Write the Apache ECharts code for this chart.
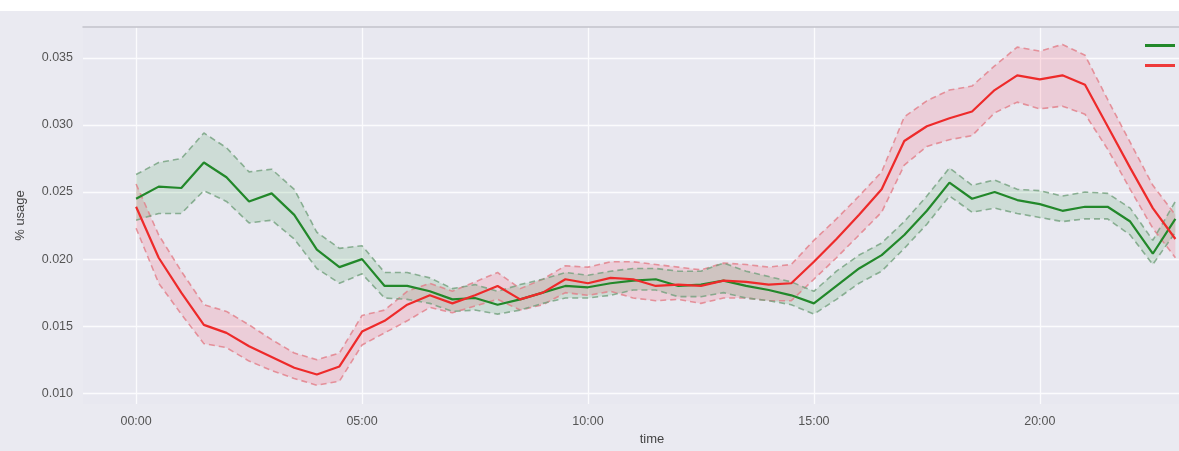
<!DOCTYPE html>
<html>
<head>
<meta charset="utf-8">
<script src="https://cdn.jsdelivr.net/npm/echarts@6/dist/echarts.min.js"></script>
<style>
  html, body { margin: 0; padding: 0; background: #eaeaf1; }
  #chart { width: 1179px; height: 451px; }
</style>
</head>
<body>
<div id="chart"></div>
<script>
// hours of the day, half-hour steps
const hours = [0, 0.5, 1, 1.5, 2, 2.5, 3, 3.5, 4, 4.5, 5, 5.5, 6, 6.5, 7, 7.5, 8, 8.5, 9, 9.5,
  10, 10.5, 11, 11.5, 12, 12.5, 13, 13.5, 14, 14.5, 15, 15.5, 16, 16.5, 17, 17.5, 18, 18.5, 19, 19.5,
  20, 20.5, 21, 21.5, 22, 22.5, 23]

// green series: mean and confidence band
const greenMean = [0.0245, 0.0254, 0.0253, 0.0272, 0.0261, 0.0243, 0.0249, 0.0233, 0.0207, 0.0194,
  0.0200, 0.0180, 0.0180, 0.0176, 0.0170, 0.0171, 0.0166, 0.0170, 0.0175, 0.0180,
  0.0179, 0.0182, 0.0184, 0.0185, 0.0180, 0.0181, 0.0184, 0.0180, 0.0177, 0.0173,
  0.0167, 0.0180, 0.0193, 0.0203, 0.0218, 0.0236, 0.0257, 0.0245, 0.0250, 0.0244,
  0.0241, 0.0236, 0.0239, 0.0239, 0.0228, 0.0204, 0.0230]
const greenHigh = [0.0263, 0.0272, 0.0275, 0.0294, 0.0283, 0.0265, 0.0267, 0.0252, 0.0220, 0.0208,
  0.0210, 0.0190, 0.0190, 0.0186, 0.0178, 0.0181, 0.0176, 0.0181, 0.0185, 0.0190,
  0.0188, 0.0191, 0.0193, 0.0193, 0.0191, 0.0191, 0.0197, 0.0191, 0.0187, 0.0183,
  0.0176, 0.0191, 0.0203, 0.0212, 0.0228, 0.0247, 0.0268, 0.0255, 0.0259, 0.0252,
  0.0251, 0.0247, 0.0250, 0.0249, 0.0238, 0.0214, 0.0243]
const greenLow = [0.0229, 0.0234, 0.0234, 0.0251, 0.0243, 0.0227, 0.0229, 0.0215, 0.0193, 0.0182,
  0.0189, 0.0171, 0.0170, 0.0167, 0.0161, 0.0162, 0.0159, 0.0162, 0.0167, 0.0171,
  0.0171, 0.0173, 0.0177, 0.0177, 0.0172, 0.0172, 0.0175, 0.0171, 0.0169, 0.0166,
  0.0159, 0.0170, 0.0182, 0.0191, 0.0208, 0.0226, 0.0247, 0.0235, 0.0238, 0.0234,
  0.0231, 0.0228, 0.0230, 0.0230, 0.0218, 0.0196, 0.0220]

// red series: mean and confidence band
const redMean = [0.0239, 0.0201, 0.0175, 0.0151, 0.0145, 0.0135, 0.0127, 0.0119, 0.0114, 0.0120,
  0.0146, 0.0154, 0.0166, 0.0173, 0.0167, 0.0173, 0.0180, 0.0170, 0.0175, 0.0185,
  0.0182, 0.0186, 0.0185, 0.0180, 0.0181, 0.0180, 0.0184, 0.0183, 0.0181, 0.0182,
  0.0198, 0.0215, 0.0233, 0.0252, 0.0288, 0.0299, 0.0305, 0.0310, 0.0326, 0.0337,
  0.0334, 0.0337, 0.0330, 0.0299, 0.0268, 0.0238, 0.0215]
const redHigh = [0.0256, 0.0218, 0.0191, 0.0166, 0.0161, 0.0151, 0.0140, 0.0130, 0.0125, 0.0130,
  0.0158, 0.0162, 0.0176, 0.0182, 0.0176, 0.0183, 0.0190, 0.0178, 0.0185, 0.0195,
  0.0194, 0.0198, 0.0198, 0.0196, 0.0194, 0.0192, 0.0197, 0.0196, 0.0194, 0.0196,
  0.0214, 0.0230, 0.0247, 0.0265, 0.0306, 0.0318, 0.0326, 0.0329, 0.0344, 0.0358,
  0.0355, 0.0360, 0.0352, 0.0319, 0.0287, 0.0255, 0.0233]
const redLow = [0.0223, 0.0182, 0.0159, 0.0137, 0.0134, 0.0124, 0.0117, 0.0111, 0.0106, 0.0109,
  0.0136, 0.0145, 0.0154, 0.0164, 0.0160, 0.0165, 0.0170, 0.0162, 0.0166, 0.0175,
  0.0173, 0.0176, 0.0171, 0.0169, 0.0170, 0.0167, 0.0171, 0.0171, 0.0169, 0.0169,
  0.0185, 0.0201, 0.0218, 0.0235, 0.0270, 0.0284, 0.0289, 0.0292, 0.0309, 0.0317,
  0.0312, 0.0314, 0.0308, 0.0282, 0.0252, 0.0223, 0.0201]

// tick labels
const xTicks = [0, 5, 10, 15, 20]
const yTicks = [0.010, 0.015, 0.020, 0.025, 0.030, 0.035]

const pairs = (ys) => hours.map((h, i) => [h, ys[i]])

const font = 'Liberation Sans, Arial, sans-serif'

// filled band between lo and hi, drawn as one polygon through the axes
function bandFill(lo, hi, fillColor) {
  return {
    type: 'custom',
    silent: true,
    z: 1,
    data: hours.map((h, i) => [h, lo[i], hi[i]]),
    encode: { x: 0, y: [1, 2] },
    renderItem: (params, api) => {
      if (params.dataIndex !== 0) return null
      const top = hours.map((h, i) => api.coord([h, hi[i]]))
      const bottom = hours.map((h, i) => api.coord([h, lo[i]])).reverse()
      return {
        type: 'polygon',
        shape: { points: top.concat(bottom) },
        style: { fill: fillColor }
      }
    }
  }
}

// dashed edge of a band
function edgeLine(ys, color) {
  return {
    type: 'line', data: pairs(ys), symbol: 'none', silent: true, z: 2,
    lineStyle: { color: color, width: 1.6, type: [6, 4] }
  }
}

const chart = echarts.init(document.getElementById('chart'))

const option = {
  animation: false,
  backgroundColor: '#eaeaf1',
  textStyle: { fontFamily: font },
  graphic: [
    { type: 'rect', left: 0, top: 0, shape: { width: 1179, height: 11 }, style: { fill: '#ffffff' } }
  ],
  grid: {
    left: 83, top: 27, right: 0, bottom: 44,
    show: true, backgroundColor: '#e8e8f0', borderWidth: 0
  },
  legend: {
    left: 1140, top: 39, orient: 'vertical',
    itemWidth: 30, itemHeight: 3, itemGap: 17, icon: 'rect',
    formatter: () => '',
    data: ['green', 'red']
  },
  xAxis: [
    {
      type: 'value', min: -1.175, max: 23.08,
      name: 'time', nameLocation: 'middle', nameGap: 29,
      nameTextStyle: { color: '#444', fontSize: 13, fontFamily: font, padding: [0, 0, 0, 42] },
      axisLine: { show: false }, axisTick: { show: false, customValues: xTicks },
      axisLabel: {
        customValues: xTicks, color: '#555', fontSize: 12.5, margin: 11,
        formatter: (v) => String(v).padStart(2, '0') + ':00'
      },
      splitLine: { show: true, lineStyle: { color: '#fbfbfd', width: 1.3 } }
    },
    {
      type: 'value', position: 'top', min: -1.175, max: 23.08,
      axisLine: { show: true, lineStyle: { color: '#c2c2ca', width: 1.5 } },
      axisTick: { show: false }, axisLabel: { show: false }, splitLine: { show: false }
    }
  ],
  yAxis: {
    type: 'value', min: 0.0092, max: 0.0373,
    name: '% usage', nameLocation: 'middle', nameGap: 56, nameRotate: 90,
    nameTextStyle: { color: '#444', fontSize: 13, fontFamily: font },
    axisLine: { show: false }, axisTick: { show: false, customValues: yTicks },
    axisLabel: {
      customValues: yTicks, color: '#555', fontSize: 12.5, margin: 10,
      formatter: (v) => v.toFixed(3)
    },
    splitLine: { show: true, lineStyle: { color: '#fbfbfd', width: 1.3 } }
  },
  series: [
    bandFill(redLow, redHigh, 'rgba(255,40,70,0.14)'),
    bandFill(greenLow, greenHigh, 'rgba(20,140,40,0.13)'),
    edgeLine(redLow, 'rgba(226,125,135,0.8)'),
    edgeLine(redHigh, 'rgba(226,125,135,0.8)'),
    edgeLine(greenLow, 'rgba(115,160,125,0.8)'),
    edgeLine(greenHigh, 'rgba(115,160,125,0.8)'),
    {
      name: 'green', type: 'line', data: pairs(greenMean), symbol: 'none',
      lineStyle: { color: '#22882a', width: 2.2 }, itemStyle: { color: '#22882a' }, z: 3
    },
    {
      name: 'red', type: 'line', data: pairs(redMean), symbol: 'none',
      lineStyle: { color: '#ee2a2a', width: 2.2 }, itemStyle: { color: '#ee3a3a' }, z: 3
    }
  ]
}

chart.setOption(option)
</script>
</body>
</html>
